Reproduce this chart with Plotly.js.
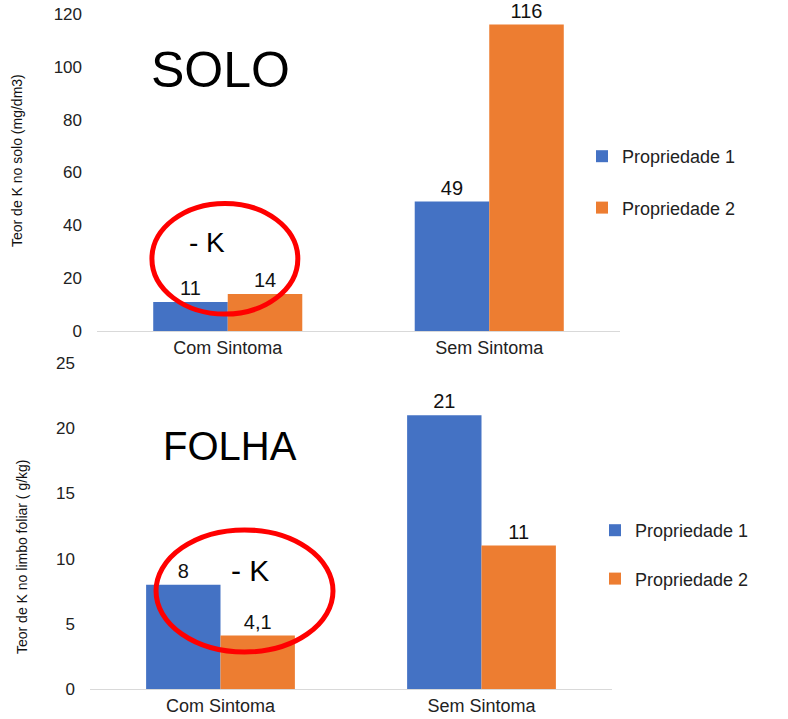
<!DOCTYPE html>
<html>
<head>
<meta charset="utf-8">
<script src="https://cdn.plot.ly/plotly-3.0.1.min.js"></script>
<style>html,body{margin:0;padding:0;background:#fff;}#chart{width:788px;height:719px;}</style>
</head>
<body>
<div id="chart"></div>
<script>
// ---- data ----
const categories = ["Com Sintoma", "Sem Sintoma"];
const seriesNames = ["Propriedade 1", "Propriedade 2"];
const soloP1 = [11, 49];
const soloP2 = [14, 116];
const folhaP1 = [8, 21];
const folhaP2 = [4.1, 11];
const soloYTicks = [0, 20, 40, 60, 80, 100, 120];
const folhaYTicks = [0, 5, 10, 15, 20, 25];

const blue = "#4472C4", orange = "#ED7D31";
const fontFam = "Liberation Sans, Arial, sans-serif";
const fmt = v => String(v).replace(".", ",");

function barTrace(vals, name, color, xa, ya, leg, grp) {
  return {
    type: "bar", x: categories, y: vals, name: name,
    marker: {color: color},
    text: vals.map(fmt), textposition: "outside",
    textfont: {family: fontFam, size: 20, color: "#111"},
    constraintext: "none", cliponaxis: false,
    xaxis: xa, yaxis: ya, legend: leg, legendgroup: grp,
    hoverinfo: "skip"
  };
}

const data = [
  barTrace(soloP1, seriesNames[0], blue, "x", "y", "legend", "a1"),
  barTrace(soloP2, seriesNames[1], orange, "x", "y", "legend", "a2"),
  barTrace(folhaP1, seriesNames[0], blue, "x2", "y2", "legend2", "b1"),
  barTrace(folhaP2, seriesNames[1], orange, "x2", "y2", "legend2", "b2")
];

const W = 788, H = 719;
const px = v => v / W, py = v => 1 - v / H;

const axisCommon = {
  showgrid: false, zeroline: false, ticks: "",
  tickfont: {family: fontFam, size: 17, color: "#222"}
};

const layout = {
  width: W, height: H,
  margin: {l: 0, r: 0, t: 0, b: 0},
  paper_bgcolor: "#fff", plot_bgcolor: "#fff",
  barmode: "group", bargap: 0.43, bargroupgap: 0,
  separators: ", ",
  showlegend: true,
  xaxis: Object.assign({}, axisCommon, {
    domain: [px(97), px(620)], anchor: "y",
    showline: true, linecolor: "#d9d9d9", linewidth: 1,
    tickfont: {family: fontFam, size: 18, color: "#222"}
  }),
  yaxis: Object.assign({}, axisCommon, {
    domain: [py(331), py(14)], anchor: "x",
    range: [0, 120], tickvals: soloYTicks, showline: false,
    ticklabelstandoff: 14
  }),
  xaxis2: Object.assign({}, axisCommon, {
    domain: [px(90), px(612)], anchor: "y2",
    showline: true, linecolor: "#d9d9d9", linewidth: 1,
    tickfont: {family: fontFam, size: 18, color: "#222"}
  }),
  yaxis2: Object.assign({}, axisCommon, {
    domain: [py(689), py(363)], anchor: "x2",
    range: [0, 25], tickvals: folhaYTicks, showline: false,
    ticklabelstandoff: 14
  }),
  legend: {
    x: px(582), y: py(138), xanchor: "left", yanchor: "top",
    traceorder: "grouped", tracegroupgap: 25,
    font: {family: fontFam, size: 18, color: "#222"},
    bgcolor: "rgba(0,0,0,0)"
  },
  legend2: {
    x: px(595), y: py(512), xanchor: "left", yanchor: "top",
    traceorder: "grouped", tracegroupgap: 22,
    font: {family: fontFam, size: 18, color: "#222"},
    bgcolor: "rgba(0,0,0,0)"
  },
  annotations: [
    {text: "SOLO", xref: "paper", yref: "paper", x: px(220), y: py(70),
     xanchor: "center", yanchor: "middle", showarrow: false,
     font: {family: fontFam, size: 50, color: "#000"}},
    {text: "FOLHA", xref: "paper", yref: "paper", x: px(230), y: py(446),
     xanchor: "center", yanchor: "middle", showarrow: false,
     font: {family: fontFam, size: 40, color: "#000"}},
    {text: "- K", xref: "paper", yref: "paper", x: px(207), y: py(242),
     xanchor: "center", yanchor: "middle", showarrow: false,
     font: {family: fontFam, size: 28, color: "#000"}},
    {text: "- K", xref: "paper", yref: "paper", x: px(250), y: py(570),
     xanchor: "center", yanchor: "middle", showarrow: false,
     font: {family: fontFam, size: 30, color: "#000"}},
    {text: "Teor de K no solo (mg/dm3)", xref: "paper", yref: "paper",
     x: px(17), y: py(161), textangle: -90, xanchor: "center", yanchor: "middle",
     showarrow: false, font: {family: "Liberation Sans Narrow, " + fontFam, size: 14, color: "#111"}},
    {text: "Teor de K no limbo foliar ( g/kg)", xref: "paper", yref: "paper",
     x: px(22), y: py(557), textangle: -90, xanchor: "center", yanchor: "middle",
     showarrow: false, font: {family: "Liberation Sans Narrow, " + fontFam, size: 14, color: "#111"}}
  ],
  shapes: [
    {type: "circle", xref: "x", yref: "y", x0: -0.29, x1: 0.268, y0: 6.4, y1: 48.3,
     line: {color: "#ff0000", width: 5}, layer: "above"},
    {type: "circle", xref: "x2", yref: "y2", x0: -0.247, x1: 0.431, y0: 2.84, y1: 12.2,
     line: {color: "#ff0000", width: 5}, layer: "above"}
  ]
};

Plotly.newPlot("chart", data, layout, {displayModeBar: false, staticPlot: true});
</script>
</body>
</html>
